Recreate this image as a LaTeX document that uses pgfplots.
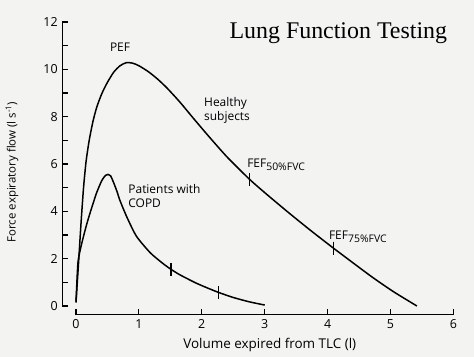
\documentclass[border=0pt]{standalone}
\usepackage{pgfplots}
\pgfplotsset{compat=1.18}
\usepackage{fontspec}
\setmainfont{Open Sans}
\newfontfamily\titlefont{Liberation Serif}
\definecolor{bg}{RGB}{243,243,242}
\newcommand{\fefsub}[1]{\raisebox{-3bp}{\fontsize{10.5}{12}\selectfont #1}}

\begin{document}
\begin{tikzpicture}
\fill[bg] (-76bp,-51bp) rectangle (398bp,306bp);
\begin{axis}[
  anchor=origin, at={(0,0)},
  x=62.9bp, y=23.67bp,
  xmin=-0.22, xmax=6.1, ymin=-0.37, ymax=12.2,
  axis lines*=left, axis line style={draw=none},
  tick align=inside,
  xtick={0,...,6}, ytick={0,2,...,12}, minor ytick={1,3,...,11},
  major tick length=6bp, minor tick length=6bp,
  every tick/.style={black, line width=1.1pt},
  tick label style={font=\fontsize{12.5}{14}\selectfont},
  /pgf/number format/assume math mode=true,
  x tick label style={yshift=-1bp},
  y tick label style={xshift=-1bp},
  clip=false,
]
% Healthy subjects
\addplot[black, line width=1.5pt, smooth, tension=0.4] coordinates {
(0,0.15) (0.04,1.8) (0.08,3.5) (0.12,5.0) (0.16,6.1) (0.21,7.0) (0.27,7.8)
(0.33,8.4) (0.41,8.97) (0.5,9.45) (0.6,9.88) (0.7,10.15) (0.8,10.28)
(0.9,10.26) (1.0,10.15) (1.15,9.9) (1.3,9.58) (1.45,9.2) (1.65,8.62)
(1.86,7.95) (2.1,7.2) (2.4,6.3) (2.76,5.35) (3.04,4.7) (3.4,3.9) (3.75,3.15)
(4.09,2.45) (4.4,1.83) (4.72,1.2) (5.05,0.6) (5.42,0.0)
};
% COPD
\addplot[black, line width=1.5pt, smooth, tension=0.4] coordinates {
(0,0.15) (0.03,1.8) (0.07,2.4) (0.12,2.95) (0.17,3.45) (0.22,3.9) (0.28,4.4)
(0.33,4.8) (0.41,5.3) (0.47,5.52) (0.51,5.56) (0.55,5.5) (0.6,5.2) (0.65,4.85)
(0.7,4.45) (0.81,3.75) (0.96,2.95) (1.18,2.25) (1.38,1.8) (1.51,1.55)
(1.65,1.32) (1.9,0.98) (2.1,0.75) (2.27,0.57) (2.5,0.36) (2.75,0.18) (3.0,0.04)
};
% FEF markers
\addplot[black, only marks, mark=|, mark size=6.5bp, mark options={line width=1.1pt}]
  coordinates {(2.76,5.35) (4.09,2.45) (1.51,1.55) (2.27,0.57)};

\draw[line width=1.1pt] (axis cs:-0.22,0) -- (axis cs:-0.22,12);
\draw[line width=1.1pt] (axis cs:0,-0.37) -- (axis cs:6,-0.37);

\node[font=\fontsize{12}{14}\selectfont] at (axis cs:0.70,10.94) {PEF};
\node[anchor=west, align=left, inner sep=0, font=\fontsize{12}{14}\selectfont] at (axis cs:2.035,8.26) {Healthy\\subjects};
\node[anchor=base west, inner sep=0, font=\fontsize{12}{14}\selectfont] at (axis cs:2.72,5.87) {FEF\fefsub{50\%FVC}};
\node[anchor=base west, inner sep=0, font=\fontsize{12}{14}\selectfont] at (axis cs:4.02,2.79) {FEF\fefsub{75\%FVC}};
\node[anchor=west, align=left, inner sep=0, font=\fontsize{12}{14}\selectfont] at (axis cs:0.83,4.63) {Patients with\\COPD};
\node[font=\titlefont\fontsize{24}{26}\selectfont] at (axis cs:4.17,11.53) {Lung Function Testing};
\node[rotate=90, font=\fontsize{11.5}{14}\selectfont] at (axis cs:-1.017,5.66) {Force expiratory flow (l s\textsuperscript{-1})};
\node[font=\fontsize{13.5}{15}\selectfont] at (axis cs:3.08,-1.65) {Volume expired from TLC (l)};
\end{axis}
\end{tikzpicture}
\end{document}
